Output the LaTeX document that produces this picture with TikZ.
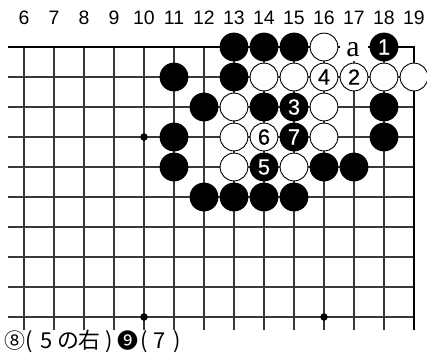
\documentclass[tikz,border=0pt]{standalone}
\usepackage{fontspec}
\setmainfont{Liberation Sans}
\newfontfamily\stonefont[FakeBold=0.6]{Liberation Sans}
\newfontfamily\jpfont{Noto Sans CJK JP}
\newfontfamily\serifa{Liberation Serif}
\newcommand\gp[2]{({24+30*(#1-6)},{47+30*(#2-1)})}
\newcommand\cc[1]{\hbox to 0pt{\hss#1\hss}}
\begin{document}
\begin{tikzpicture}[x=1bp,y=-1bp,
  gridline/.style={line width=1.5bp, draw=black!78},
  edgeline/.style={line width=2.6bp, draw=black, line join=miter},
  bstone/.style={circle, fill=black, minimum size=28.8bp, inner sep=0pt, text=white, font=\stonefont\fontsize{22}{22}\selectfont},
  wstone/.style={circle, draw=black, line width=0.9bp, fill=white, minimum size=27.8bp, inner sep=0pt, text=black, font=\stonefont\fontsize{22}{22}\selectfont},
  hoshi/.style={circle, fill=black, minimum size=7.5bp, inner sep=0pt},
  collabel/.style={font=\fontsize{19.5}{19.5}\selectfont, inner sep=0pt}]
\useasboundingbox (0,0) rectangle (427,360);
% grid
\foreach \c in {6,...,18} \draw[gridline] ({24+30*(\c-6)},47) -- ({24+30*(\c-6)},330);
\foreach \r in {2,...,10} \draw[gridline] (8,{47+30*(\r-1)}) -- (414,{47+30*(\r-1)});
\draw[edgeline] (8,47) -- (414,47) -- (414,330);
% column labels
\foreach \c in {6,...,19} \node[collabel] (col\c) at ({24+30*(\c-6)},18) {\c};
% hoshi
\node[hoshi] (h1) at \gp{10}{4} {};
\node[hoshi] (h2) at \gp{10}{10} {};
\node[hoshi] (h3) at \gp{16}{10} {};
% label a
\fill[white] ({354-14},{47-14}) rectangle ({354+14},{47+14});
\node[font=\serifa\fontsize{30}{30}\selectfont, inner sep=0pt] (la) at (353,49.5) {a};
% row 1
\node[bstone] (s13a) at \gp{13}{1} {};
\node[bstone] (s14a) at \gp{14}{1} {};
\node[bstone] (s15a) at \gp{15}{1} {};
\node[wstone] (s16a) at \gp{16}{1} {};
\node[bstone] (s18a) at \gp{18}{1} {1};
% row 2
\node[bstone] (s11b) at \gp{11}{2} {};
\node[bstone] (s13b) at \gp{13}{2} {};
\node[wstone] (s14b) at \gp{14}{2} {};
\node[wstone] (s15b) at \gp{15}{2} {};
\node[wstone] (s16b) at \gp{16}{2} {4};
\node[wstone] (s17b) at \gp{17}{2} {2};
\node[wstone] (s18b) at \gp{18}{2} {};
\node[wstone] (s19b) at \gp{19}{2} {};
% row 3
\node[bstone] (s12c) at \gp{12}{3} {};
\node[wstone] (s13c) at \gp{13}{3} {};
\node[bstone] (s14c) at \gp{14}{3} {};
\node[bstone] (s15c) at \gp{15}{3} {3};
\node[wstone] (s16c) at \gp{16}{3} {};
\node[bstone] (s18c) at \gp{18}{3} {};
% row 4
\node[bstone] (s11d) at \gp{11}{4} {};
\node[wstone] (s13d) at \gp{13}{4} {};
\node[wstone] (s14d) at \gp{14}{4} {6};
\node[bstone] (s15d) at \gp{15}{4} {7};
\node[wstone] (s16d) at \gp{16}{4} {};
\node[bstone] (s18d) at \gp{18}{4} {};
% row 5
\node[bstone] (s11e) at \gp{11}{5} {};
\node[wstone] (s13e) at \gp{13}{5} {};
\node[bstone] (s14e) at \gp{14}{5} {5};
\node[wstone] (s15e) at \gp{15}{5} {};
\node[bstone] (s16e) at \gp{16}{5} {};
\node[bstone] (s17e) at \gp{17}{5} {};
% row 6
\node[bstone] (s12f) at \gp{12}{6} {};
\node[bstone] (s13f) at \gp{13}{6} {};
\node[bstone] (s14f) at \gp{14}{6} {};
\node[bstone] (s15f) at \gp{15}{6} {};
% caption
\node[anchor=base west, inner sep=0pt, font=\jpfont\fontsize{22}{22}\selectfont] (cap) at (0,348.5)
  {\kern14.5bp\cc{\fontsize{21}{21}\selectfont ⑧}\kern14.5bp\cc{(}\kern17.5bp\cc{5}\kern21.5bp\cc{の}\kern21bp\cc{右}\kern20.5bp\cc{)}\kern18bp\cc{\fontsize{21}{21}\selectfont ❾}\kern17bp\cc{(}\kern14.5bp\cc{7}\kern18bp\cc{)}\kern4bp};
\end{tikzpicture}
\end{document}
